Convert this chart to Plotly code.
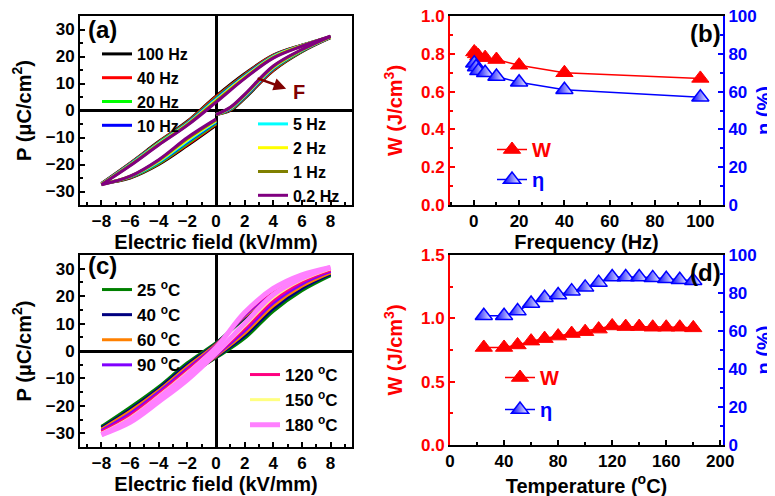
import plotly.graph_objects as go

# ---------------- data ----------------
# (a) P-E loops vs frequency
E_rise = [0, 1, 2, 4, 6, 8]
E_fall = [8, 6, 4, 2, 0, -2, -4, -6, -8]
E_back = [-8, -6, -4, -2, 0]
freq_names = ["100 Hz", "40 Hz", "20 Hz", "10 Hz", "5 Hz", "2 Hz", "1 Hz", "0.2 Hz"]
a_rise = [
    [-1.5, 0.0, 4.5, 14.8, 21.8, 27.0],
    [-1.5, 0.2, 4.7, 15.0, 22.0, 27.1],
    [-1.5, 0.4, 4.9, 15.3, 22.1, 27.2],
    [-1.5, 0.6, 5.1, 15.5, 22.2, 27.2],
    [-1.5, 0.8, 5.4, 15.8, 22.3, 27.3],
    [-1.5, 0.9, 5.6, 16.0, 22.4, 27.3],
    [-1.5, 1.1, 5.8, 16.3, 22.5, 27.4],
    [-1.5, 1.2, 6.0, 16.5, 22.6, 27.5],
]
a_fall = [
    [27.0, 24.2, 20.5, 13.6, 5.3, -4.0, -11.5, -19.5, -27.0],
    [27.1, 24.2, 20.4, 13.3, 5.0, -4.2, -11.7, -19.6, -27.1],
    [27.2, 24.1, 20.2, 13.0, 4.6, -4.5, -11.9, -19.8, -27.2],
    [27.2, 24.1, 20.1, 12.8, 4.3, -4.7, -12.1, -19.9, -27.2],
    [27.3, 24.0, 20.0, 12.5, 4.0, -4.9, -12.2, -20.0, -27.3],
    [27.3, 24.0, 19.8, 12.3, 3.7, -5.1, -12.4, -20.2, -27.3],
    [27.4, 23.9, 19.6, 12.0, 3.4, -5.3, -12.6, -20.3, -27.4],
    [27.5, 23.8, 19.4, 11.8, 3.0, -5.5, -12.8, -20.5, -27.5],
]
a_back = [
    [-27.0, -25.0, -20.0, -13.0, -5.5],
    [-27.1, -24.8, -19.7, -12.6, -5.1],
    [-27.2, -24.7, -19.5, -12.1, -4.7],
    [-27.2, -24.6, -19.2, -11.7, -4.4],
    [-27.3, -24.5, -19.0, -11.3, -4.1],
    [-27.3, -24.4, -18.7, -10.8, -3.8],
    [-27.4, -24.4, -18.4, -10.4, -3.5],
    [-27.5, -24.3, -18.2, -10.0, -3.2],
]

# (b) energy storage vs frequency
freq = [0.2, 1, 2, 5, 10, 20, 40, 100]
W_freq = [0.81, 0.80, 0.79, 0.78, 0.77, 0.74, 0.70, 0.67]
eta_freq = [75, 73, 71, 70, 68, 65, 61, 57]

# (c) P-E loops vs temperature
E_c_fall = [8, 6, 4, 2, 0, -2, -4, -6, -8]
E_c_rise = [-8, -6, -4, -2, 0, 2, 4, 6, 8]
temp_names = ["25 <sup>o</sup>C", "40 <sup>o</sup>C", "60 <sup>o</sup>C", "90 <sup>o</sup>C",
              "120 <sup>o</sup>C", "150 <sup>o</sup>C", "180 <sup>o</sup>C"]
c_fall = [
    [27.5, 24.8, 20.0, 11.8, 3.0, -4.3, -13.0, -20.5, -27.5],
    [28.0, 25.3, 20.5, 12.2, 2.7, -5.0, -13.7, -21.3, -28.0],
    [28.5, 25.8, 21.0, 12.6, 2.4, -5.7, -14.4, -22.0, -28.5],
    [29.0, 26.3, 21.5, 13.0, 2.1, -6.4, -15.0, -22.8, -29.0],
    [29.5, 26.8, 22.0, 13.4, 1.8, -7.1, -15.7, -23.6, -29.5],
    [30.0, 27.3, 22.4, 13.7, 1.5, -7.8, -16.4, -24.3, -30.0],
    [30.5, 27.8, 22.8, 14.0, 1.2, -8.5, -17.0, -25.0, -30.5],
]
c_rise = [
    [-27.5, -23.0, -16.5, -9.0, -2.5, 4.6, 14.5, 22.0, 27.5],
    [-28.0, -23.5, -16.8, -9.3, -2.2, 5.5, 15.5, 22.8, 28.0],
    [-28.5, -24.0, -17.1, -9.6, -1.9, 6.4, 16.5, 23.6, 28.5],
    [-29.0, -24.5, -17.4, -9.8, -1.6, 7.3, 17.5, 24.4, 29.0],
    [-29.5, -25.0, -17.8, -10.0, -1.3, 8.2, 18.5, 25.2, 29.5],
    [-30.0, -25.5, -18.1, -10.3, -1.0, 9.1, 19.5, 25.9, 30.0],
    [-30.5, -26.0, -18.5, -10.5, -0.8, 10.0, 20.5, 26.5, 30.5],
]

# (d) energy storage vs temperature
temp = [25, 40, 50, 60, 70, 80, 90, 100, 110, 120, 130, 140, 150, 160, 170, 180]
W_temp = [0.77, 0.77, 0.79, 0.82, 0.84, 0.86, 0.88, 0.895, 0.915, 0.94, 0.935, 0.935, 0.93, 0.93, 0.93, 0.925]
eta_temp = [68, 68, 70.5, 74.5, 77.5, 79, 81, 83, 85.5, 88.5, 88.5, 88.5, 88, 87.5, 87, 86.5]

# ---------------- styles ----------------
OFF = 8                      # page body margin of the browser
FW, FH = 775, 496
FONT = "Liberation Sans"
freq_colors = ["#000000", "#FF0000", "#00FF00", "#0000FF", "#00FFFF", "#FFFF00", "#808000", "#800080"]
temp_colors = ["#008000", "#000080", "#FF8000", "#8000FF", "#FF0080", "#FFFF80", "#FF80FF"]
temp_widths = [3, 3, 3, 3, 3, 3, 5]
RED, BLUE = "#FF0000", "#0000FF"


def px(x):
    return (x - OFF) / FW


def py(y):
    return 1 - (y - OFF) / FH


fig = go.Figure()

# (a)
for i, name in enumerate(freq_names):
    xs = E_rise + [None] + E_fall + [None] + E_back
    ys = a_rise[i] + [None] + a_fall[i] + [None] + a_back[i]
    fig.add_trace(go.Scatter(
        x=xs, y=ys, mode="lines", name=name,
        line=dict(color=freq_colors[i], width=3, shape="spline", smoothing=1),
        xaxis="x", yaxis="y", legend="legend" if i < 4 else "legend2"))

# (b)
fig.add_trace(go.Scatter(
    x=freq, y=W_freq, mode="lines+markers", name="W",
    line=dict(color=RED, width=1.5),
    marker=dict(symbol="triangle-up", size=15, color=RED, line=dict(color=RED, width=1)),
    xaxis="x2", yaxis="y2", legend="legend3"))
fig.add_trace(go.Scatter(
    x=freq, y=eta_freq, mode="lines+markers", name="η",
    line=dict(color=BLUE, width=1.5),
    marker=dict(symbol="triangle-up", size=15, color=BLUE,
                gradient=dict(type="horizontal", color="white"),
                line=dict(color=BLUE, width=1.5)),
    xaxis="x2", yaxis="y3", legend="legend4"))

# (c)
for i, name in enumerate(temp_names):
    xs = E_c_fall + [None] + E_c_rise
    ys = c_fall[i] + [None] + c_rise[i]
    fig.add_trace(go.Scatter(
        x=xs, y=ys, mode="lines", name=name,
        line=dict(color=temp_colors[i], width=temp_widths[i], shape="spline", smoothing=1),
        xaxis="x3", yaxis="y4", legend="legend5" if i < 4 else "legend6"))

# (d)
fig.add_trace(go.Scatter(
    x=temp, y=W_temp, mode="lines+markers", name="W",
    line=dict(color=RED, width=1.5),
    marker=dict(symbol="triangle-up", size=15, color=RED, line=dict(color=RED, width=1)),
    xaxis="x4", yaxis="y5", legend="legend7"))
fig.add_trace(go.Scatter(
    x=temp, y=eta_temp, mode="lines+markers", name="η",
    line=dict(color=BLUE, width=1.5),
    marker=dict(symbol="triangle-up", size=15, color=BLUE,
                gradient=dict(type="horizontal", color="white"),
                line=dict(color=BLUE, width=1.5)),
    xaxis="x4", yaxis="y6", legend="legend8"))

tickfont = dict(family=FONT, size=17, color="black", weight="bold")
titlefont = dict(family=FONT, size=20, color="black", weight="bold")


def xax(domain, rng, dtick, minor, title, anchor, tickvals=None):
    d = dict(domain=domain, range=rng, dtick=dtick, anchor=anchor,
             showline=True, linecolor="black", linewidth=2, mirror=True,
             ticks="inside", ticklen=5, tickwidth=1.5, tickcolor="black",
             minor=dict(dtick=minor, ticks="inside", ticklen=3, tickwidth=1.5, tickcolor="black"),
             showgrid=False, zeroline=False, tickfont=tickfont, ticklabeloverflow="allow",
             title=dict(text=title, font=titlefont, standoff=0), automargin=False)
    if tickvals is not None:
        d["tickvals"] = tickvals
        d.pop("dtick")
    return d


def yax(domain, rng, dtick, minor, title, anchor, color="black", side="left", fmt=None,
        mirror=True, standoff=9):
    d = dict(domain=domain, range=rng, dtick=dtick, anchor=anchor, side=side,
             showline=True, linecolor=color, linewidth=2, mirror=mirror,
             ticks="inside", ticklen=5, tickwidth=1.5, tickcolor=color,
             minor=dict(dtick=minor, ticks="inside", ticklen=3, tickwidth=1.5, tickcolor=color),
             showgrid=False, zeroline=False, ticklabeloverflow="allow",
             tickfont=dict(family=FONT, size=17, color=color, weight="bold"),
             title=dict(text=title, font=dict(family=FONT, size=20, color=color, weight="bold"),
                        standoff=standoff),
             automargin=False)
    if fmt:
        d["tickformat"] = fmt
    return d


dxa = [px(80), px(352)]
dxb = [px(450), px(723)]
dyt = [py(205), py(16)]
dyb = [py(447), py(255)]
dyd = [py(445), py(255)]

xa = xax(dxa, [-9.5, 9.5], 2, 1, "Electric field (kV/mm)", "y", tickvals=[-8, -6, -4, -2, 0, 2, 4, 6, 8])
xa.update(zeroline=True, zerolinecolor="black", zerolinewidth=2.5)
ya = yax(dyt, [-35, 35], 10, 5, "P (μC/cm<sup>2</sup>)", "x")
ya.update(zeroline=True, zerolinecolor="black", zerolinewidth=2.5)

xb = xax(dxb, [-10.5, 110], 20, 10, "Frequency (Hz)", "y2")
yb = yax(dyt, [-0.0005, 1.0005], 0.2, 0.1, "W (J/cm<sup>3</sup>)", "x2", color=RED, fmt=".1f",
         mirror=False, standoff=13)
yb2 = yax(dyt, [-0.05, 100.05], 20, 10, "η (%)", "x2", color=BLUE, side="right", mirror=False,
          standoff=1)
yb2.update(overlaying="y2")

xc = xax(dxa, [-9.5, 9.5], 2, 1, "Electric field (kV/mm)", "y4", tickvals=[-8, -6, -4, -2, 0, 2, 4, 6, 8])
xc.update(zeroline=True, zerolinecolor="black", zerolinewidth=2.5)
yc = yax(dyb, [-35, 35], 10, 5, "P (μC/cm<sup>2</sup>)", "x3")
yc.update(zeroline=True, zerolinecolor="black", zerolinewidth=2.5)

xd = xax(dxb, [0, 202], 40, 20, "Temperature (<sup>o</sup>C)", "y5")
yd = yax(dyd, [-0.0008, 1.5008], 0.5, 0.25, "W (J/cm<sup>3</sup>)", "x4", color=RED, fmt=".1f",
         mirror=False, standoff=13)
yd2 = yax(dyd, [-0.05, 100.05], 20, 10, "η (%)", "x4", color=BLUE, side="right", mirror=False,
          standoff=1)
yd2.update(overlaying="y5")


def leg(xl, ytop, size=16, color="black"):
    return dict(x=px(xl), y=py(ytop), xanchor="left", yanchor="top",
                bgcolor="rgba(0,0,0,0)", borderwidth=0, tracegroupgap=0,
                font=dict(family=FONT, size=size, color=color, weight="bold"),
                itemclick=False, itemdoubleclick=False)


fig.update_layout(
    width=FW, height=FH,
    margin=dict(l=0, r=0, t=0, b=0),
    paper_bgcolor="white", plot_bgcolor="white",
    font=dict(family=FONT, color="black"),
    xaxis=xa, yaxis=ya,
    xaxis2=xb, yaxis2=yb, yaxis3=yb2,
    xaxis3=xc, yaxis4=yc,
    xaxis4=xd, yaxis5=yd, yaxis6=yd2,
    legend=leg(97, 37),
    legend2=leg(253, 107),
    legend3=leg(492, 130, size=20, color=RED),
    legend4=leg(492, 160, size=20, color=BLUE),
    legend5=leg(97, 272, size=17),
    legend6=leg(245, 357, size=17),
    legend7=leg(500, 358, size=20, color=RED),
    legend8=leg(500, 390, size=20, color=BLUE),
)

labfont = dict(family=FONT, size=24, color="black", weight="bold")
for txt, xc_, yc_ in [("(a)", 102, 30), ("(b)", 705, 33), ("(c)", 102, 265), ("(d)", 705, 272)]:
    fig.add_annotation(text=txt, x=px(xc_), y=py(yc_), xref="paper", yref="paper",
                       xanchor="center", yanchor="middle", showarrow=False, font=labfont)

# arrow F in (a)
fig.add_annotation(x=4.9, y=8.1, ax=2.8, ay=12.1, xref="x", yref="y", axref="x", ayref="y",
                   text="", showarrow=True, arrowhead=2, arrowsize=1, arrowwidth=2.5,
                   arrowcolor="#800000")
fig.add_annotation(x=5.8, y=7.0, xref="x", yref="y", text="F", showarrow=False,
                   font=dict(family=FONT, size=20, color="#800000", weight="bold"))

fig.write_html("out.html")
